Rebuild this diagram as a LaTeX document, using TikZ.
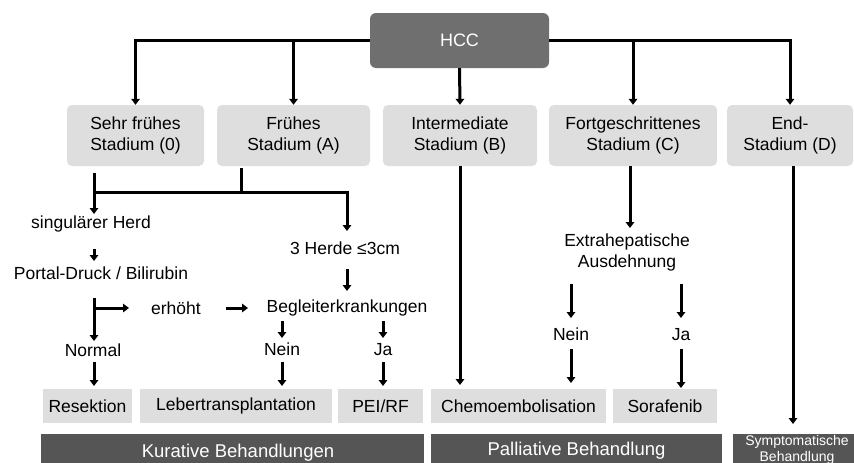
\documentclass[tikz,border=0pt]{standalone}
\usepackage{fontspec}
\setmainfont{Liberation Sans}
\usepackage{tikz}
\usetikzlibrary{arrows.meta}
\definecolor{hccgray}{HTML}{6F6F6F}
\definecolor{bargray}{HTML}{555555}
\definecolor{boxgray}{HTML}{DEDEDE}

\tikzset{
  stagebox/.style={fill=boxgray,rounded corners=5pt,align=center,inner sep=0pt,
    font=\fontsize{17.5}{20.5}\selectfont},
  therapy/.style={fill=boxgray,inner sep=0pt,font=\fontsize{17.5}{20}\selectfont},
  treatbar/.style={fill=bargray,text=white,inner sep=0pt,font=\fontsize{18.5}{22}\selectfont},
  label/.style={inner sep=0pt,align=center,font=\fontsize{17.5}{21}\selectfont},
  answer/.style={label,text height=13pt,text depth=0pt},
  flow/.style={line width=3pt,-{Triangle[length=6pt,width=8.5pt]}},
  plain/.style={line width=3pt}
}

\begin{document}
\begin{tikzpicture}[x=1pt,y=-1pt]
  \path[use as bounding box,clip] (0,0) rectangle (854,463);

  % top node and stages
  \node[fill=hccgray,text=white,rounded corners=6pt,minimum width=179pt,minimum height=55pt,
    font=\fontsize{18}{20}\selectfont] (hcc) at (459.5,40.5) {HCC};
  \node[stagebox,minimum width=137pt,minimum height=61pt] (s0) at (135.5,135.5) {Sehr frühes\\Stadium (0)};
  \node[stagebox,minimum width=153pt,minimum height=61pt] (sa) at (293.5,135.5) {Frühes\\Stadium (A)};
  \node[stagebox,minimum width=154pt,minimum height=61pt] (sb) at (460,135.5) {Intermediate\\Stadium (B)};
  \node[stagebox,minimum width=168pt,minimum height=61pt] (sc) at (633,135.5) {Fortgeschrittenes\\Stadium (C)};
  \node[stagebox,minimum width=126pt,minimum height=61pt] (sd) at (790,135.5) {End-\\Stadium (D)};

  \draw[flow] (hcc.west) -| (s0.north);
  \draw[flow] (hcc.west) -| (sa.north);
  \draw[flow] (hcc.south) -- (sb.north);
  \draw[flow] (hcc.east) -| (sc.north);
  \draw[flow] (hcc.east) -| (sd.north);

  % early stages
  \node[label] (herd) at (91,224) {singulärer Herd};
  \node[label] (portal) at (101,273) {Portal-Druck / Bilirubin};
  \node[label] (herde) at (345,248) {3 Herde ≤3cm};
  \node[label] (erhoeht) at (176,308) {erhöht};
  \node[label] (begleit) at (347,308) {Begleiterkrankungen};
  \node[answer] (normal) at (93,350) {Normal};
  \node[answer] (nein1) at (282,349) {Nein};
  \node[answer] (ja1) at (383,349) {Ja};

  \coordinate (s0out) at (94,173);
  \coordinate (saout) at (241,168);
  \coordinate (split) at (241,192);
  \coordinate (fork) at (94,298);

  \draw[plain] (saout) -- (split);
  \draw[plain] (split) -- (split -| s0out);
  \draw[flow] (s0out) -- (94,214);
  \draw[flow] (split) -| (347,231);
  \draw[flow] (94,249) -- (94,261);
  \draw[flow] (fork) -- (94,341);
  \draw[flow] (fork |- erhoeht) -- (erhoeht.west -| 129,0);
  \draw[flow] (226,308) -- (248,308);
  \draw[flow] (347,269) -- (347,291);
  \draw[flow] (nein1 |- 0,321) -- (nein1 |- 0,338);
  \draw[flow] (ja1 |- 0,321) -- (ja1 |- 0,338);

  % therapies
  \node[therapy,minimum width=89pt,minimum height=34pt] (resek) at (87.5,406) {Resektion};
  \node[therapy,minimum width=192pt,minimum height=34pt] (leber) at (236,406) {Lebertransplantation};
  \node[therapy,minimum width=85pt,minimum height=34pt] (pei) at (380.5,406) {PEI/RF};
  \node[therapy,minimum width=175pt,minimum height=34pt] (chemo) at (518.5,406) {Chemoembolisation};
  \node[therapy,minimum width=104pt,minimum height=34pt] (sora) at (665,406) {Sorafenib};

  \draw[flow] (94,362) -- (94,386);
  \draw[flow] (nein1 |- 0,362) -- (nein1 |- 0,386);
  \draw[flow] (ja1 |- 0,362) -- (ja1 |- 0,386);

  % advanced stages
  \node[label] (extra) at (627,252.5) {Extrahepatische\\Ausdehnung};
  \node[answer] (nein2) at (571,334) {Nein};
  \node[answer] (ja2) at (681,334) {Ja};

  \draw[flow] (sb.south) -- (460,385);
  \draw[flow] (sc.south -| 630,0) -- (630,228);
  \draw[flow] (nein2 |- 0,284) -- (nein2 |- 0,318);
  \draw[flow] (ja2 |- 0,284) -- (ja2 |- 0,318);
  \draw[flow] (nein2 |- 0,349) -- (nein2 |- 0,383);
  \draw[flow] (ja2 |- 0,349) -- (ja2 |- 0,388);

  % treatment bars
  \node[treatbar,minimum width=383pt,minimum height=50pt] (kurativ) at (232.5,459) {};
  \node[text=white,font=\fontsize{18.5}{22}\selectfont] (kurtext) at (238,453) {Kurative Behandlungen};
  \node[treatbar,minimum width=291pt,minimum height=50pt] (palliativ) at (576.5,459) {};
  \node[text=white,font=\fontsize{18.5}{22}\selectfont] (paltext) at (576.5,451) {Palliative Behandlung};
  \node[treatbar,minimum width=130pt,minimum height=50pt] (sympt) at (798,459) {};
  \node[text=white,align=center,inner sep=0pt,font=\fontsize{14}{16}\selectfont] (symtext) at (797,450)
    {Symptomatische\\Behandlung};
  \draw[flow] (sd.south -| 793,0) -- (793,424);
\end{tikzpicture}
\end{document}
